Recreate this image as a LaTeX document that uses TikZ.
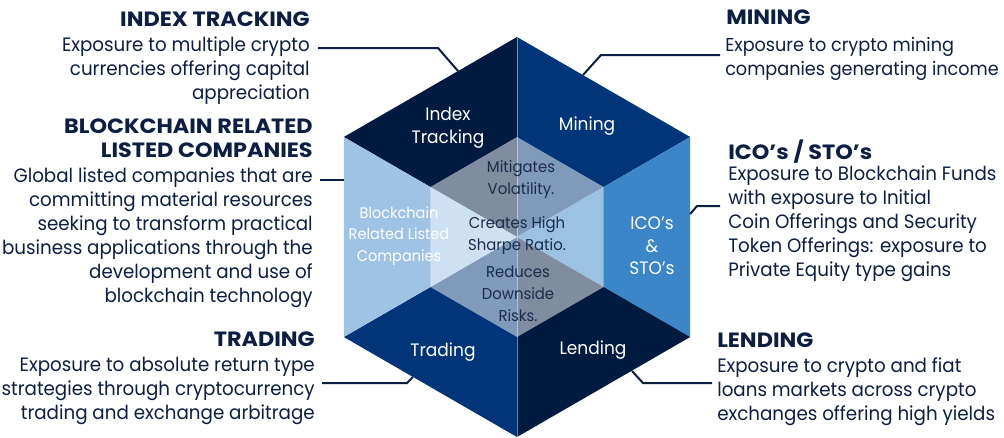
\documentclass[tikz,border=0pt]{standalone}
\usepackage{fontspec}
\setmainfont[FakeStretch=0.945]{Poppins}
\newfontfamily\headfont[FakeStretch=1.08]{Poppins}
\definecolor{ink}{HTML}{0C1E44}
\definecolor{navy}{HTML}{001A40}
\definecolor{royal}{HTML}{00357A}
\definecolor{azure}{HTML}{3A86C8}
\definecolor{sky}{HTML}{9EC3E5}
\definecolor{midtext}{HTML}{1C2C4C}
\tikzset{
  lead/.style={draw=ink, line width=1.5pt, line join=miter},
  head/.style={font=\headfont\fontsize{15.5}{18}\selectfont\bfseries, text=ink, inner sep=0pt},
  desc/.style={font=\fontsize{14.5}{18}\selectfont, text=ink, inner sep=0pt},
  seg/.style={font=\fontsize{13.5}{17}\selectfont, text=white, align=center, inner sep=0pt},
  core/.style={font=\fontsize{11.8}{16.5}\selectfont, text=midtext, align=center, inner sep=0pt}
}
\begin{document}
\begin{tikzpicture}[x=0.75pt,y=-0.75pt]
\useasboundingbox (0,0) rectangle (1004,437);
% hexagon corners
\coordinate (C)  at (517,237);
\coordinate (T)  at (517,37);
\coordinate (UR) at (690.2,137);
\coordinate (LR) at (690.2,337);
\coordinate (B)  at (517,437);
\coordinate (LL) at (343.8,337);
\coordinate (UL) at (343.8,137);
% six coloured sectors
\fill[navy]  (C) -- (T)  -- (UL) -- cycle;
\fill[royal] (C) -- (T)  -- (UR) -- cycle;
\fill[azure] (C) -- (UR) -- (LR) -- cycle;
\fill[navy]  (C) -- (LR) -- (B)  -- cycle;
\fill[royal] (C) -- (B)  -- (LL) -- cycle;
\fill[sky]   (C) -- (LL) -- (UL) -- cycle;
% translucent inner hexagon
\fill[white, opacity=0.5] (517,137) -- (603.6,187) -- (603.6,287) -- (517,337) -- (430.4,287) -- (430.4,187) -- cycle;
\draw[white, opacity=0.45, line width=0.7pt] (T) -- (B);

% sector labels
\node[seg] (sIdx) at (448,128) {Index\\Tracking};
\node[seg] (sMin) at (587,126) {Mining};
\node[seg, font=\fontsize{11.5}{16}\selectfont] (sBlk) at (399,236) {Blockchain\\Related Listed\\Companies};
\node[seg] (sIco) at (652,246) {ICO’s\\\&\\STO’s};
\node[seg] (sTrd) at (443,352) {Trading};
\node[seg] (sLnd) at (593,350) {Lending};
% centre benefits
\node[core] (bVol) at (521,180) {Mitigates\\Volatility.};
\node[core] (bShp) at (517,236) {Creates High\\Sharpe Ratio.};
\node[core] (bRsk) at (518,294) {Reduces\\Downside\\Risks.};

% left column
\node[head, anchor=north east] (hIdx) at (310,12) {INDEX TRACKING};
\node[desc, anchor=north east, align=right] (dIdx) at (310,37) {Exposure to multiple crypto\\currencies offering capital\\appreciation};
\node[head, anchor=north east, align=right] (hBlk) at (313,119) {BLOCKCHAIN RELATED\\LISTED COMPANIES};
\node[desc, anchor=north east, align=right] (dBlk) at (313,168) {Global listed companies that are\\committing material resources\\seeking to transform practical\\business applications through the\\development and use of\\blockchain technology};
\node[head, anchor=north east] (hTrd) at (315,332) {TRADING};
\node[desc, anchor=north east, align=right] (dTrd) at (315,357) {Exposure to absolute return type\\strategies through cryptocurrency\\trading and exchange arbitrage};

% right column
\node[head, anchor=north west] (hMin) at (726,10) {MINING};
\node[desc, anchor=north west, align=left, font=\fontsize{14}{18}\selectfont] (dMin) at (725,37) {Exposure to crypto mining\\companies generating income};
\node[head, anchor=north west] (hIco) at (728,140) {ICO’s / STO’s};
\node[desc, anchor=north west, align=left] (dIco) at (728,166) {Exposure to Blockchain Funds\\with exposure to Initial\\Coin Offerings and Security\\Token Offerings: exposure to\\Private Equity type gains};
\node[head, anchor=north west] (hLnd) at (717,333) {LENDING};
\node[desc, anchor=north west, align=left] (dLnd) at (717,357) {Exposure to crypto and fiat\\loans markets across crypto\\exchanges offering high yields};

% leader lines
\coordinate (eIdx) at (458,71);
\coordinate (eMin) at (583,75);
\coordinate (eBlk) at (343.8,180);
\coordinate (eIco) at (690.2,214);
\coordinate (eTrd) at (413,377);
\coordinate (eLnd) at (632,371);
\coordinate (tIdx) at (318,48);
\coordinate (tMin) at (720,55);
\coordinate (tBlk) at (320,180);
\coordinate (tIco) at (720,206);
\coordinate (tTrd) at (322,383);
\coordinate (tLnd) at (712,383);
\draw[lead] (tIdx) -- (438,48) -- (eIdx);
\draw[lead] (eMin) -- (601,55) -- (tMin);
\draw[lead] (tBlk) -- (eBlk);
\draw[lead] (eIco) -- (697,206) -- (tIco);
\draw[lead] (tTrd) -- (407,383) -- (eTrd);
\draw[lead] (eLnd) -- (643,383) -- (tLnd);
\end{tikzpicture}
\end{document}
